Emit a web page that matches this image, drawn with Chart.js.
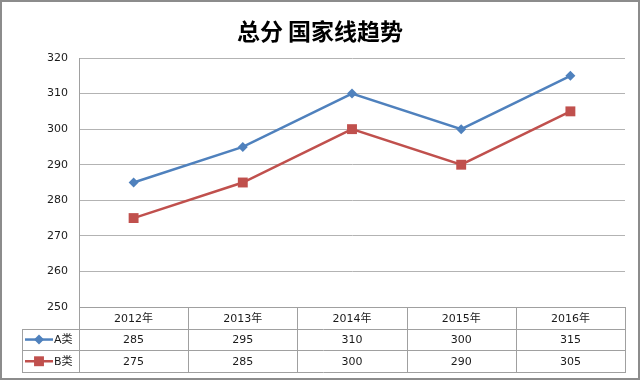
<!DOCTYPE html>
<html>
<head>
<meta charset="utf-8">
<script src="https://cdn.jsdelivr.net/npm/chart.js@4/dist/chart.umd.min.js"></script>
<style>
html,body{margin:0;padding:0;background:#fff;}
canvas{display:block;}
</style>
</head>
<body>
<canvas id="c" width="640" height="380"></canvas>
<script>
const chartTitle = "总分 国家线趋势";
const categories = ["2012年", "2013年", "2014年", "2015年", "2016年"];
const seriesNames = ["A类", "B类"];
const seriesA = [285, 295, 310, 300, 315];
const seriesB = [275, 285, 300, 290, 305];
const yTicks = [250, 260, 270, 280, 290, 300, 310, 320];

const BLUE = "#4F81BD", RED = "#C0504D", GRID = "#b3b3b3";
const FONT = '"DejaVu Sans", "Noto Sans CJK SC", sans-serif';

const tablePlugin = {
  id: "tablePlugin",
  afterDraw(chart) {
    const ctx = chart.ctx;
    const ca = chart.chartArea;
    const xs = chart.scales.x;
    const n = categories.length;
    const colW = (ca.right - ca.left) / n;
    const rowH = 21.7;
    const top = ca.bottom;
    const r1 = top + rowH, r2 = top + 2 * rowH, r3 = top + 3 * rowH;
    const legL = 22;
    ctx.save();
    // outer frame
    ctx.strokeStyle = "#8c8c8c";
    ctx.lineWidth = 2;
    ctx.strokeRect(1, 1, 638, 378);
    // title
    ctx.fillStyle = "#000";
    ctx.font = 'bold 23px "Noto Sans CJK SC", sans-serif';
    ctx.textAlign = "center";
    ctx.textBaseline = "middle";
    ctx.fillText(chartTitle, 320, 31);
    // table lines
    ctx.strokeStyle = "#a0a0a0";
    ctx.lineWidth = 1;
    const hl = (x1, x2, y) => { ctx.beginPath(); ctx.moveTo(x1, Math.round(y) + 0.5); ctx.lineTo(x2, Math.round(y) + 0.5); ctx.stroke(); };
    const vl = (x, y1, y2) => { ctx.beginPath(); ctx.moveTo(Math.round(x) + 0.5, y1); ctx.lineTo(Math.round(x) + 0.5, y2); ctx.stroke(); };
    hl(ca.left, ca.right, top);
    hl(legL, ca.right, r1);
    hl(legL, ca.right, r2);
    hl(legL, ca.right, r3);
    vl(legL, Math.round(r1), Math.round(r3) + 1);
    for (let i = 0; i <= n; i++) vl(ca.left + i * colW, Math.round(top), Math.round(r3) + 1);
    // texts
    ctx.fillStyle = "#1a1a1a";
    ctx.font = "11px " + FONT;
    ctx.textAlign = "center";
    for (let i = 0; i < n; i++) {
      const cx = xs.getPixelForValue(i);
      ctx.fillText(categories[i], cx, (top + r1) / 2 + 1);
      ctx.fillText(String(seriesA[i]), cx, (r1 + r2) / 2 + 1);
      ctx.fillText(String(seriesB[i]), cx, (r2 + r3) / 2 + 1);
    }
    // legend keys
    const keys = [[BLUE, "rectRot", 5, (r1 + r2) / 2, seriesNames[0]], [RED, "rect", 7, (r2 + r3) / 2, seriesNames[1]]];
    keys.forEach(([col, style, rad, y, name]) => {
      ctx.strokeStyle = col;
      ctx.lineWidth = 2.5;
      ctx.beginPath(); ctx.moveTo(25, y); ctx.lineTo(53, y); ctx.stroke();
      ctx.fillStyle = col;
      Chart.helpers.drawPoint(ctx, { pointStyle: style, radius: rad, borderWidth: 0 }, 39, y);
      ctx.fillStyle = "#1a1a1a";
      ctx.textAlign = "left";
      ctx.fillText(name, 54, y + 1);
    });
    ctx.restore();
  }
};

new Chart(document.getElementById("c"), {
  type: "line",
  data: {
    labels: categories,
    datasets: [
      { label: seriesNames[0], data: seriesA, borderColor: BLUE, backgroundColor: BLUE, borderWidth: 2.5,
        pointStyle: "rectRot", pointRadius: 5, pointBorderWidth: 0, tension: 0 },
      { label: seriesNames[1], data: seriesB, borderColor: RED, backgroundColor: RED, borderWidth: 2.5,
        pointStyle: "rect", pointRadius: 7, pointBorderWidth: 0, tension: 0 }
    ]
  },
  options: {
    responsive: false,
    animation: false,
    devicePixelRatio: 1,
    layout: { padding: { top: 58, bottom: 73, right: 15, left: 0 } },
    plugins: { legend: { display: false }, title: { display: false }, tooltip: { enabled: false } },
    scales: {
      x: { type: "category", offset: true, display: false },
      y: {
        min: yTicks[0], max: yTicks[yTicks.length - 1],
        afterFit(s) { s.width = 79; },
        afterBuildTicks(s) { s.ticks = yTicks.map(v => ({ value: v })); },
        ticks: { color: "#1a1a1a", font: { family: FONT, size: 11 }, padding: 11 },
        grid: { color: GRID, lineWidth: 1, drawTicks: false },
        border: { display: true, color: "#a0a0a0" }
      }
    }
  },
  plugins: [tablePlugin]
});
</script>
</body>
</html>
